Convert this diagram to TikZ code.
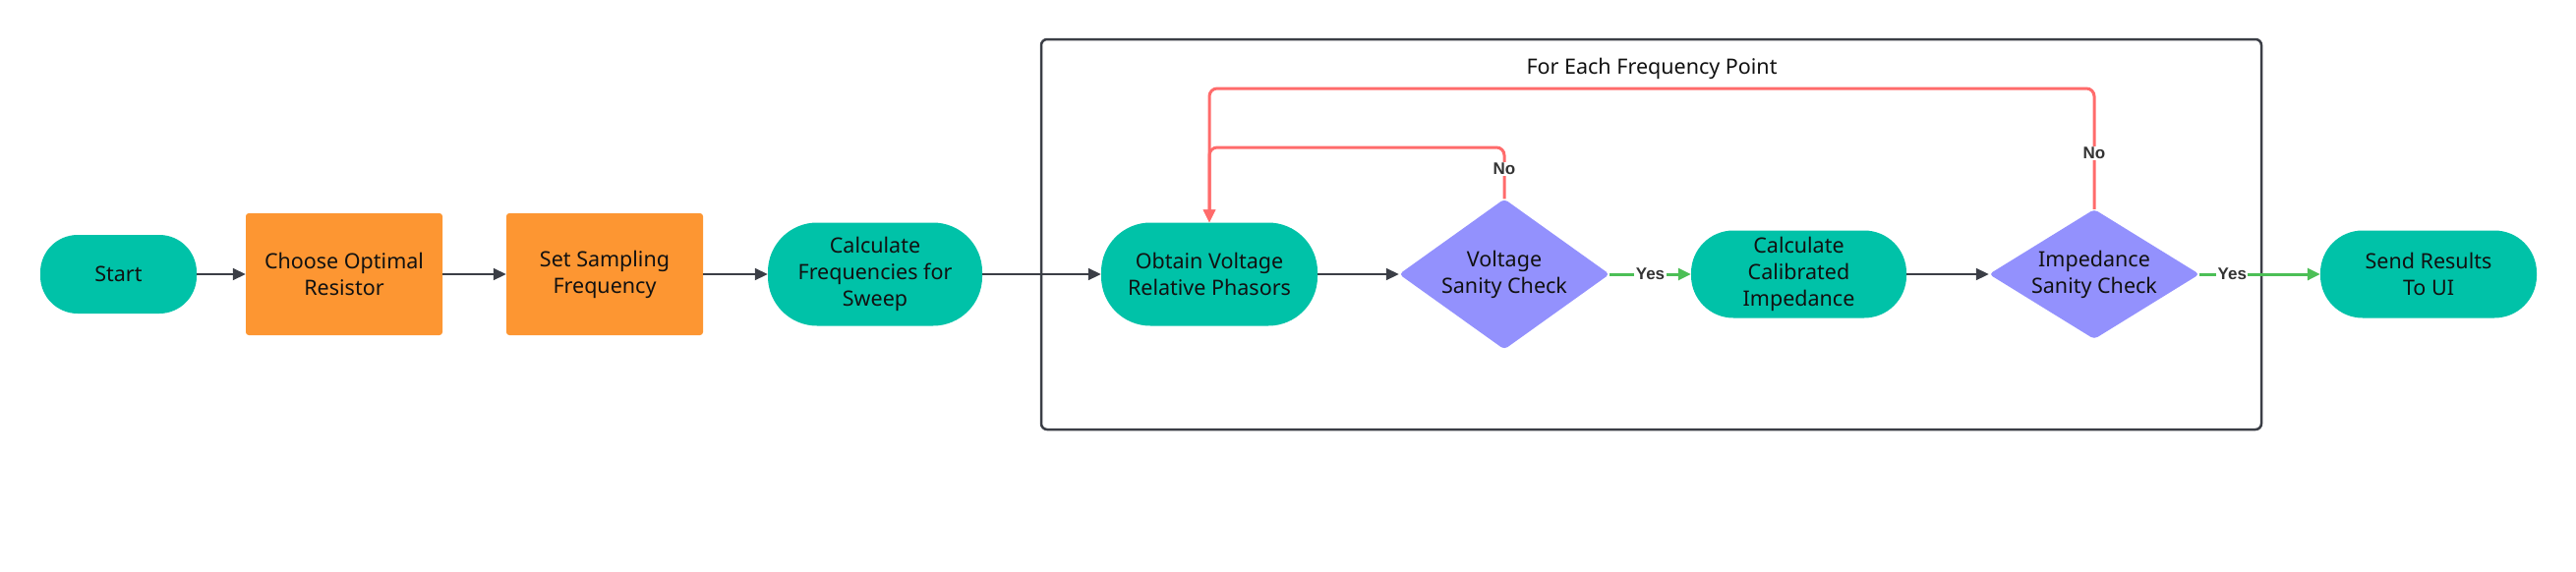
\documentclass[tikz,border=0pt]{standalone}
\usepackage{fontspec}
\setmainfont{Noto Sans}
\newfontfamily\labfont{Liberation Sans}
\usetikzlibrary{arrows.meta}
\definecolor{cTeal}{HTML}{00C2A8}
\definecolor{cOrange}{HTML}{FD9632}
\definecolor{cPurple}{HTML}{9391FD}
\definecolor{cRed}{HTML}{FF6B6B}
\definecolor{cGreen}{HTML}{4CBF56}
\definecolor{cLine}{HTML}{3B3E46}
\definecolor{cText}{HTML}{111111}
\definecolor{cLab}{HTML}{333333}
\begin{document}
\begin{tikzpicture}[x=1pt,y=-1pt,
  base/.style={align=center, inner sep=0pt, text=cText, font=\fontsize{21.5}{27}\selectfont},
  pill/.style={base, fill=cTeal},
  proc/.style={base, fill=cOrange, rounded corners=3pt, minimum width=200pt, minimum height=124pt},
  dia/.style={base, rectangle, path picture={\fill[cPurple, rounded corners=4pt]
      (path picture bounding box.north) -- (path picture bounding box.east) --
      (path picture bounding box.south) -- (path picture bounding box.west) -- cycle;}},
  conn/.style={draw=cLine, line width=1.8pt, -{Triangle[length=13pt,width=12pt]}},
  yesconn/.style={draw=cGreen, line width=3pt, -{Triangle[length=13pt,width=12pt]}},
  noconn/.style={draw=cRed, line width=3pt, rounded corners=8pt, -{Triangle[length=13pt,width=12pt]}},
  lab/.style={fill=white, inner sep=1.5pt, text=cLab, font=\labfont\fontsize{17}{18}\selectfont\bfseries},
  frame/.style={draw=cLine, line width=2.5pt, rounded corners=6pt}
]
\useasboundingbox (0,0) rectangle (2620,581);

% loop container
\node[frame, minimum width=1241pt, minimum height=397pt, inner sep=0pt] (loop) at (1679.5,238.5) {};
\node[base, font=\fontsize{21.5}{24}\selectfont] (title) at (1680,70) {For Each Frequency Point};

% nodes
\node[pill, rounded corners=38pt, minimum width=159pt, minimum height=80pt] (start) at (120.5,279) {Start};
\node[proc] (choose) at (350,279) {Choose Optimal\\Resistor};
\node[proc] (setsamp) at (615,279) {Set Sampling\\Frequency};
\node[pill, rounded corners=50pt, minimum width=218pt, minimum height=105pt] (calcf) at (890,279) {Calculate\\Frequencies for\\Sweep};
\node[pill, rounded corners=50pt, minimum width=220pt, minimum height=105pt] (obtain) at (1230,279) {Obtain Voltage\\Relative Phasors};
\node[dia, minimum width=214pt, minimum height=153pt] (vs) at (1530,279) {Voltage\\Sanity Check};
\node[pill, rounded corners=43pt, minimum width=219pt, minimum height=89pt] (calib) at (1829.5,279) {Calculate\\Calibrated\\Impedance};
\node[dia, minimum width=214pt, minimum height=132pt] (is) at (2130,279) {Impedance\\Sanity Check};
\node[pill, rounded corners=43pt, minimum width=220pt, minimum height=89pt] (send) at (2470,279) {Send Results\\To UI};

% main flow
\draw[conn] (start) -- (choose);
\draw[conn] (choose) -- (setsamp);
\draw[conn] (setsamp) -- (calcf);
\draw[conn] (calcf) -- (obtain);
\draw[conn] (obtain) -- (vs);
\draw[yesconn] (vs.east) -- node[lab] (yes1) {Yes} (calib);
\draw[conn] (calib) -- (is);
\draw[yesconn] (is.east) -- node[lab, pos=0.27] (yes2) {Yes} (send);

% loop backs
\coordinate (inner) at (1230,150);
\coordinate (outer) at (1230,90);
\draw[noconn] (is.north) |- (outer) -- (obtain.north);
\draw[noconn] (vs.north) |- (inner) -- (obtain.north);
\node[lab] (no1) at (1530,172) {No};
\node[lab] (no2) at (2130,156) {No};
\end{tikzpicture}
\end{document}
